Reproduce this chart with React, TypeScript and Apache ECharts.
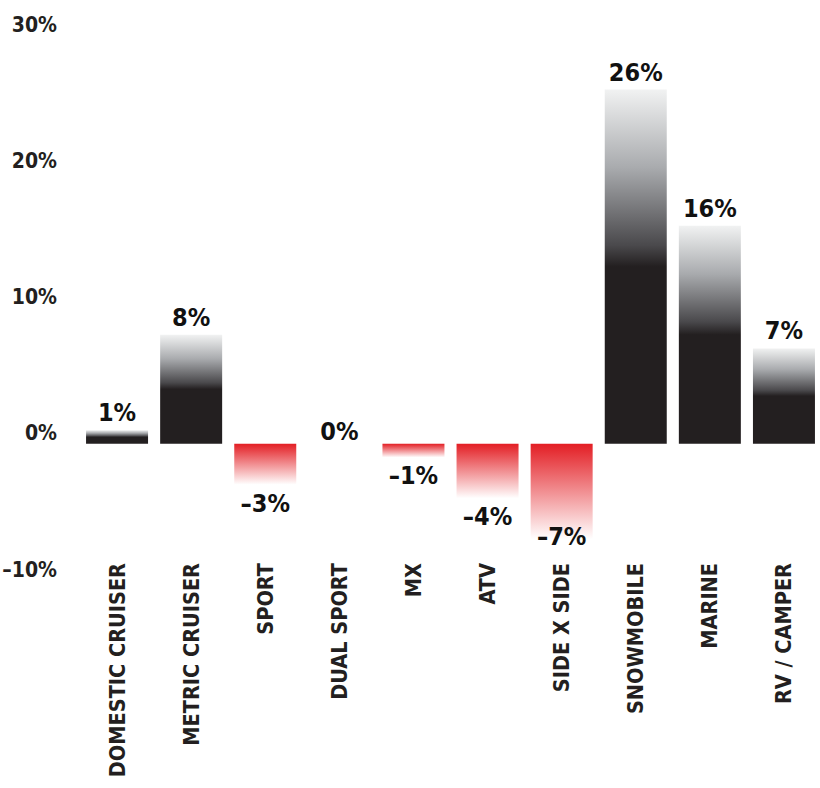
import React, { useEffect, useRef } from "react";
import * as echarts from "echarts";

// Year-over-year change by segment
const categories = [
  "DOMESTIC CRUISER",
  "METRIC CRUISER",
  "SPORT",
  "DUAL SPORT",
  "MX",
  "ATV",
  "SIDE X SIDE",
  "SNOWMOBILE",
  "MARINE",
  "RV / CAMPER",
];
const changes = [1, 8, -3, 0, -1, -4, -7, 26, 16, 7];

const yMin = -10;
const yMax = 30;
const yStep = 10;

const FONT = "'Liberation Sans Narrow', 'DejaVu Sans Condensed', sans-serif";
const INK = "#231f20";
const RED = "#e31e24";

const pct = (v: number) => (v < 0 ? "\u2013" + Math.abs(v) : String(v)) + "%";

const gainFill = new echarts.graphic.LinearGradient(0, 0, 0, 1, [
  { offset: 0, color: "#f1f2f2" },
  { offset: 0.22, color: "#a9abae" },
  { offset: 0.44, color: "#4a494c" },
  { offset: 0.5, color: INK },
  { offset: 1, color: INK },
]);

const lossFill = new echarts.graphic.LinearGradient(0, 0, 0, 1, [
  { offset: 0, color: RED },
  { offset: 1, color: "#ffffff" },
]);

export default function App() {
  const ref = useRef<HTMLDivElement>(null);

  useEffect(() => {
    if (!ref.current) return;
    const chart = echarts.init(ref.current, null, { renderer: "svg" });

    const data = changes.map((v) => {
      const neg = v < 0;
      return {
        value: v,
        itemStyle: { color: neg ? lossFill : gainFill },
        label: neg
          ? { position: "bottom", distance: 6, offset: v <= -7 ? [0, -21] : [0, 0] }
          : { position: "top", distance: v === 0 ? 0 : 5 },
      };
    });

    chart.setOption({
      animation: false,
      grid: {
        left: 80,
        top: 35,
        width: 741,
        height: 545,
        containLabel: false,
        outerBoundsMode: "none",
      },
      xAxis: {
        type: "category",
        data: categories,
        axisLine: { show: false },
        axisTick: { show: false },
        axisLabel: {
          rotate: 90,
          margin: -17,
          interval: 0,
          color: INK,
          fontFamily: FONT,
          fontWeight: "bold",
          fontSize: 21.5,
        },
      },
      yAxis: {
        type: "value",
        min: yMin,
        max: yMax,
        interval: yStep,
        splitLine: { show: false },
        axisLine: { show: false },
        axisTick: { show: false },
        axisLabel: {
          margin: 23,
          verticalAlign: "bottom",
          color: INK,
          fontFamily: FONT,
          fontWeight: "bold",
          fontSize: 21,
          formatter: (v: number) => pct(v),
        },
      },
      series: [
        {
          type: "bar",
          data,
          barWidth: 62,
          label: {
            show: true,
            color: "#111",
            fontFamily: FONT,
            fontWeight: "bold",
            fontSize: 25,
            formatter: (p: any) => pct(p.value),
          },
        },
      ],
    });

    return () => chart.dispose();
  }, []);

  return (
    <div
      ref={ref}
      style={{ position: "fixed", left: 0, top: 0, width: 820, height: 788, background: "#fff" }}
    />
  );
}
